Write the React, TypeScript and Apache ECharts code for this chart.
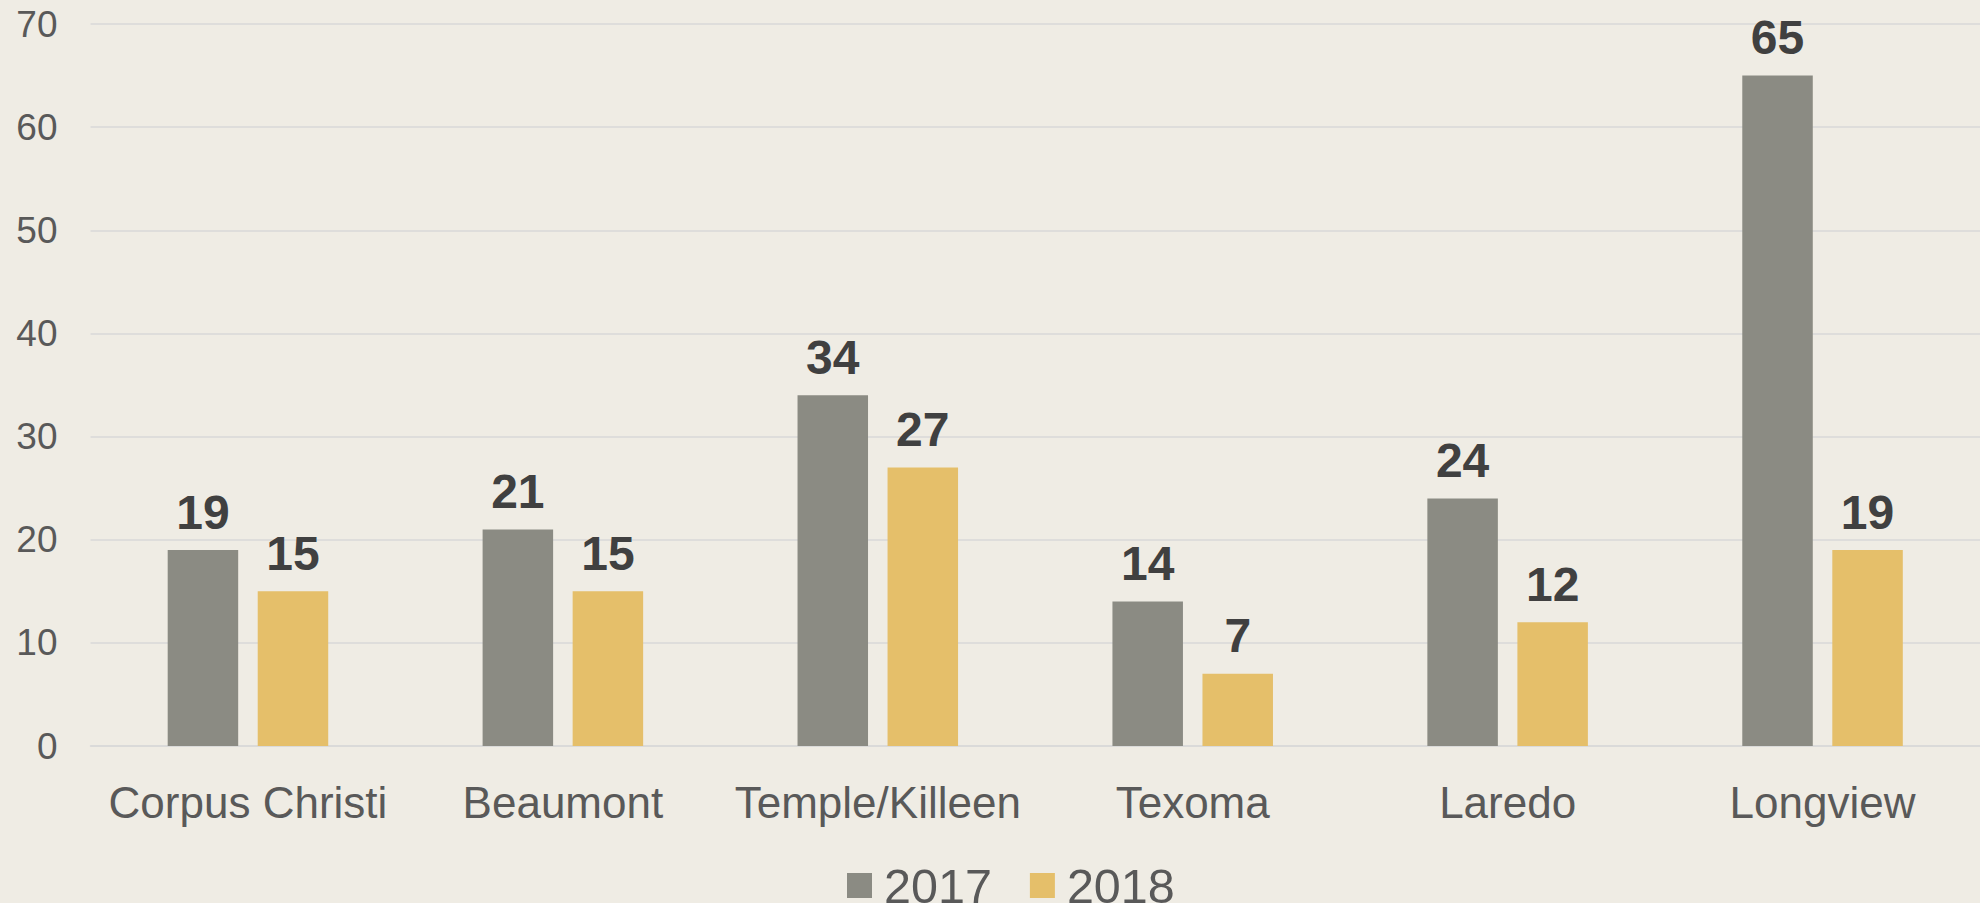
import React, { useEffect, useRef } from "react";
import * as echarts from "echarts";

const categories = ["Corpus Christi", "Beaumont", "Temple/Killeen", "Texoma", "Laredo", "Longview"];
const series2017 = [19, 21, 34, 14, 24, 65];
const series2018 = [15, 15, 27, 7, 12, 19];
const seriesNames = ["2017", "2018"];

export default function App() {
  const ref = useRef<HTMLDivElement>(null);
  useEffect(() => {
    if (!ref.current) return;
    const chart = echarts.init(ref.current, null, { renderer: "svg" });
    const font = "'Liberation Sans', Arial, sans-serif";
    const labelStyle = {
      show: true,
      position: "top" as const,
      distance: 14,
      color: "#404040",
      fontSize: 48,
      fontWeight: "bold" as const,
      fontFamily: font,
    };
    chart.setOption({
      animation: false,
      backgroundColor: "#EFECE4",
      grid: { left: 90.5, right: -3.5, top: 24, bottom: 157, containLabel: false },
      legend: {
        left: 842,
        top: 856,
        icon: "rect",
        itemWidth: 25,
        itemHeight: 25,
        itemGap: 38,
        textStyle: { color: "#595959", fontSize: 48.5, fontFamily: font, padding: [0, 0, 0, 7] },
        data: seriesNames,
      },
      xAxis: {
        type: "category",
        data: categories,
        axisLine: { show: true, lineStyle: { color: "#D9D9D9", width: 1.5 } },
        axisTick: { show: false },
        axisLabel: { color: "#595959", fontSize: 44, fontFamily: font, margin: 34, interval: 0 },
      },
      yAxis: {
        type: "value",
        min: 0,
        max: 70,
        interval: 10,
        axisLine: { show: false },
        axisTick: { show: false },
        splitLine: { lineStyle: { color: "#D9D9D9", width: 1.5 } },
        axisLabel: { color: "#595959", fontSize: 37, fontFamily: font, margin: 33 },
      },
      series: [
        {
          name: seriesNames[0],
          type: "bar",
          data: series2017,
          barWidth: 70.5,
          barGap: "27.7%",
          itemStyle: { color: "#8B8B83" },
          label: labelStyle,
        },
        {
          name: seriesNames[1],
          type: "bar",
          data: series2018,
          barWidth: 70.5,
          barGap: "27.7%",
          itemStyle: { color: "#E5BF6A" },
          label: labelStyle,
        },
      ],
    });
    return () => chart.dispose();
  }, []);
  return (
    <div
      ref={ref}
      style={{ position: "fixed", left: 0, top: 0, width: 1980, height: 903 }}
    />
  );
}
